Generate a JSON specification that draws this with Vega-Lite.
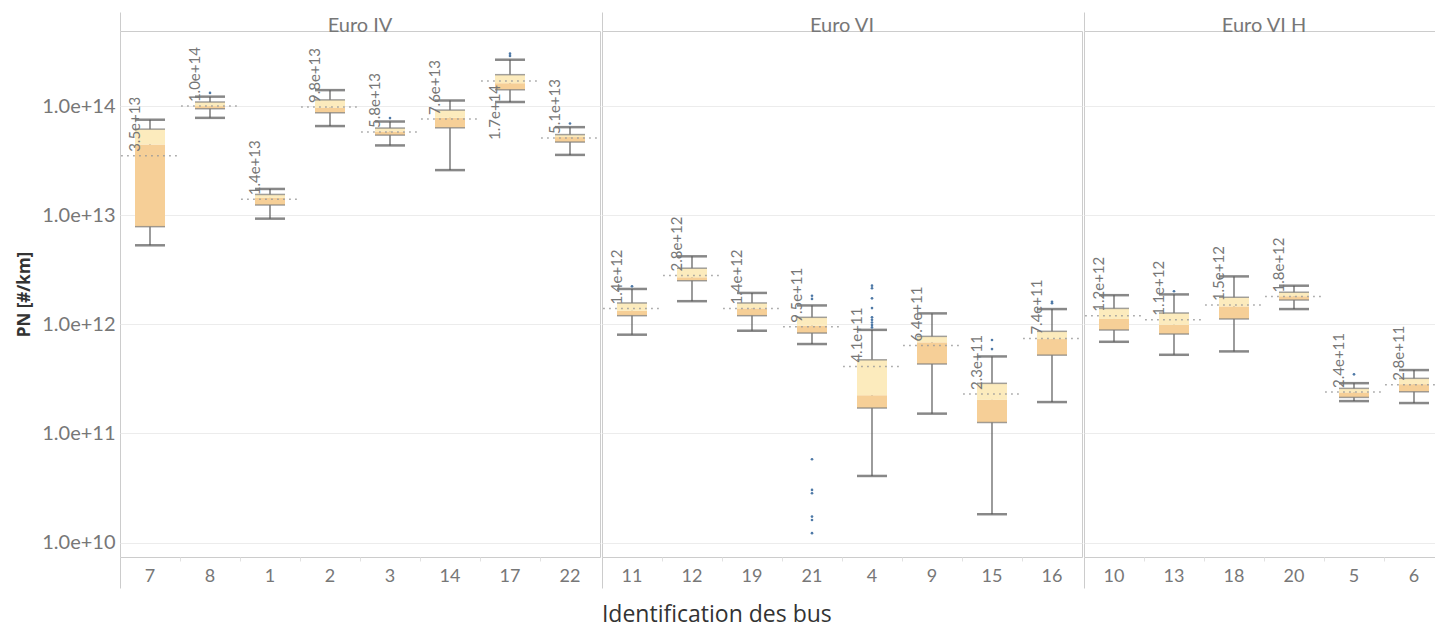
{
  "$schema": "https://vega.github.io/schema/vega-lite/v6.json",
  "padding": {"left": 15, "top": 11, "right": 0, "bottom": 0},
  "background": "white",
  "datasets": {
    "buses": [
      {"norme": "Euro IV", "bus": "7", "lo": 5.3e12, "q1": 7.85e12, "median": 4.45e13, "q3": 6.15e13, "hi": 7.5e13, "mean": 3.5e13, "outliers": []},
      {"norme": "Euro IV", "bus": "8", "lo": 7.8e13, "q1": 9.45e13, "median": 1.0e14, "q3": 1.09e14, "hi": 1.22e14, "mean": 1.0e14, "outliers": [1.32e14]},
      {"norme": "Euro IV", "bus": "1", "lo": 9.3e12, "q1": 1.24e13, "median": 1.44e13, "q3": 1.55e13, "hi": 1.74e13, "mean": 1.4e13, "outliers": []},
      {"norme": "Euro IV", "bus": "2", "lo": 6.56e13, "q1": 8.68e13, "median": 9.7e13, "q3": 1.14e14, "hi": 1.4e14, "mean": 9.8e13, "outliers": []},
      {"norme": "Euro IV", "bus": "3", "lo": 4.36e13, "q1": 5.42e13, "median": 5.85e13, "q3": 6.29e13, "hi": 7.22e13, "mean": 5.8e13, "outliers": [7.76e13]},
      {"norme": "Euro IV", "bus": "14", "lo": 2.59e13, "q1": 6.32e13, "median": 7.8e13, "q3": 9.19e13, "hi": 1.125e14, "mean": 7.6e13, "outliers": []},
      {"norme": "Euro IV", "bus": "17", "lo": 1.09e14, "q1": 1.41e14, "median": 1.62e14, "q3": 1.94e14, "hi": 2.66e14, "mean": 1.7e14, "outliers": [2.88e14, 3.02e14]},
      {"norme": "Euro IV", "bus": "22", "lo": 3.57e13, "q1": 4.68e13, "median": 5.2e13, "q3": 5.48e13, "hi": 6.41e13, "mean": 5.1e13, "outliers": [6.92e13]},
      {"norme": "Euro VI", "bus": "11", "lo": 8.04e11, "q1": 1.2e12, "median": 1.33e12, "q3": 1.57e12, "hi": 2.11e12, "mean": 1.4e12, "outliers": [2.23e12]},
      {"norme": "Euro VI", "bus": "12", "lo": 1.63e12, "q1": 2.51e12, "median": 2.7e12, "q3": 3.27e12, "hi": 4.2e12, "mean": 2.8e12, "outliers": []},
      {"norme": "Euro VI", "bus": "19", "lo": 8.74e11, "q1": 1.2e12, "median": 1.4e12, "q3": 1.57e12, "hi": 1.94e12, "mean": 1.4e12, "outliers": []},
      {"norme": "Euro VI", "bus": "21", "lo": 6.6e11, "q1": 8.32e11, "median": 9.7e11, "q3": 1.16e12, "hi": 1.49e12, "mean": 9.5e11, "outliers": [1.83e12, 1.71e12, 5.8e10, 3.04e10, 2.83e10, 1.73e10, 1.61e10, 1.22e10]},
      {"norme": "Euro VI", "bus": "4", "lo": 4.08e10, "q1": 1.71e11, "median": 2.24e11, "q3": 4.73e11, "hi": 8.9e11, "mean": 4.1e11, "outliers": [2.26e12, 2.14e12, 1.73e12, 1.41e12, 1.16e12, 1.1e12, 1.04e12, 9.86e11, 9.37e11]},
      {"norme": "Euro VI", "bus": "9", "lo": 1.52e11, "q1": 4.33e11, "median": 6.84e11, "q3": 7.76e11, "hi": 1.26e12, "mean": 6.4e11, "outliers": []},
      {"norme": "Euro VI", "bus": "15", "lo": 1.82e10, "q1": 1.26e11, "median": 2.03e11, "q3": 2.88e11, "hi": 5.08e11, "mean": 2.3e11, "outliers": [7.18e11, 5.93e11]},
      {"norme": "Euro VI", "bus": "16", "lo": 1.94e11, "q1": 5.22e11, "median": 7.33e11, "q3": 8.63e11, "hi": 1.38e12, "mean": 7.4e11, "outliers": [1.61e12, 1.56e12]},
      {"norme": "Euro VI H", "bus": "10", "lo": 6.92e11, "q1": 8.87e11, "median": 1.12e12, "q3": 1.4e12, "hi": 1.85e12, "mean": 1.2e12, "outliers": []},
      {"norme": "Euro VI H", "bus": "13", "lo": 5.26e11, "q1": 8.15e11, "median": 9.9e11, "q3": 1.27e12, "hi": 1.88e12, "mean": 1.1e12, "outliers": [2.01e12]},
      {"norme": "Euro VI H", "bus": "18", "lo": 5.65e11, "q1": 1.12e12, "median": 1.46e12, "q3": 1.77e12, "hi": 2.75e12, "mean": 1.5e12, "outliers": []},
      {"norme": "Euro VI H", "bus": "20", "lo": 1.38e12, "q1": 1.67e12, "median": 1.81e12, "q3": 1.97e12, "hi": 2.26e12, "mean": 1.8e12, "outliers": []},
      {"norme": "Euro VI H", "bus": "5", "lo": 1.98e11, "q1": 2.14e11, "median": 2.38e11, "q3": 2.59e11, "hi": 2.89e11, "mean": 2.4e11, "outliers": [3.48e11]},
      {"norme": "Euro VI H", "bus": "6", "lo": 1.9e11, "q1": 2.41e11, "median": 2.83e11, "q3": 3.2e11, "hi": 3.81e11, "mean": 2.8e11, "outliers": []}
    ]
  },
  "title": {
    "text": "Identification des bus",
    "orient": "bottom",
    "anchor": "middle",
    "font": "Open Sans",
    "fontSize": 23,
    "fontWeight": "normal",
    "color": "#333333",
    "offset": 15,
    "dx": -13
  },
  "spacing": 0,
  "resolve": {"scale": {"x": "independent"}},
  "hconcat": [
    {
      "width": 480,
      "height": 526,
      "data": {"name": "buses"},
      "transform": [{"filter": "datum.norme === 'Euro IV'"}],
      "title": {"text": "Euro IV", "font": "Lato", "fontSize": 20, "fontWeight": "normal", "color": "#777777", "anchor": "middle", "offset": -24},
      "resolve": {"axis": {"x": "independent"}},
      "encoding": {
        "x": {"field": "bus", "type": "nominal", "sort": ["7", "8", "1", "2", "3", "14", "17", "22"], "scale": {"type": "band", "paddingInner": 0, "paddingOuter": 0}, "axis": null}
      },
      "layer": [
        {
          "mark": {"type": "rule", "color": "#666666", "strokeWidth": 1.3},
          "encoding": {
            "x": {
              "field": "bus", "type": "nominal", "sort": ["7", "8", "1", "2", "3", "14", "17", "22"],
              "axis": {
                "orient": "bottom", "title": null, "labelAngle": 0, "labelFont": "Lato", "labelFontSize": 18, "labelColor": "#777777",
                "labelPadding": {"condition": {"test": "datum.index === 0", "value": -21}, "value": 6},
                "domain": false, "bandPosition": 0,
                "tickSize": {"condition": {"test": "datum.index === 0", "value": 31}, "value": 4},
                "tickColor": {"condition": {"test": "datum.index === 0", "value": "#cccccc"}, "value": "#e2e2e2"}
              }
            },
            "y": {
              "field": "lo",
              "type": "quantitative",
              "scale": {"type": "log", "domain": [7.38e9, 4.875e14], "nice": false},
              "axis": {
                "title": "PN [#/km]", "titleFont": "Open Sans", "titleFontSize": 17, "titleFontWeight": "bold", "titleColor": "#333333", "titlePadding": 8,
                "values": [1e10, 1e11, 1e12, 1e13, 1e14], "format": ".1e",
                "labelFont": "Lato", "labelFontSize": 20, "labelColor": "#777777", "labelPadding": 5,
                "ticks": false, "domain": false, "grid": true, "gridColor": "#ececec"
              }
            },
            "y2": {"field": "hi"}
          }
        },
        {"mark": {"type": "bar", "color": "#f6cf97", "width": {"band": 0.5}}, "encoding": {"y": {"field": "q1", "type": "quantitative"}, "y2": {"field": "median"}}},
        {"mark": {"type": "bar", "color": "#fcebbd", "width": {"band": 0.5}}, "encoding": {"y": {"field": "median", "type": "quantitative"}, "y2": {"field": "q3"}}},
        {"mark": {"type": "tick", "color": "#7a7a7a", "size": 30, "thickness": 1.5}, "encoding": {"y": {"field": "q1", "type": "quantitative"}}},
        {"mark": {"type": "tick", "color": "#7a7a7a", "size": 30, "thickness": 1.5}, "encoding": {"y": {"field": "q3", "type": "quantitative"}}},
        {"mark": {"type": "tick", "color": "#555555", "size": 30, "thickness": 2.5}, "encoding": {"y": {"field": "lo", "type": "quantitative"}}},
        {
          "mark": {"type": "tick", "color": "#555555", "size": 30, "thickness": 2.5},
          "encoding": {
            "x": {
              "field": "bus", "type": "nominal", "sort": ["7", "8", "1", "2", "3", "14", "17", "22"],
              "axis": {
                "orient": "top", "title": null, "labels": false, "domain": false, "bandPosition": 0,
                "tickSize": {"condition": {"test": "datum.index === 0", "value": 19}, "value": 0},
                "tickColor": "#cccccc"
              }
            },
            "y": {"field": "hi", "type": "quantitative"}
          }
        },
        {
          "mark": {"type": "rule", "color": "#999999", "strokeWidth": 1.5, "strokeDash": [1.5, 4.5]},
          "encoding": {
            "x": {"field": "bus", "type": "nominal", "sort": ["7", "8", "1", "2", "3", "14", "17", "22"], "bandPosition": 0.02, "axis": null},
            "x2": {"field": "bus", "bandPosition": 0.98},
            "y": {"field": "mean", "type": "quantitative"}
          }
        },
        {
          "transform": [{"flatten": ["outliers"], "as": ["outlier"]}],
          "mark": {"type": "circle", "color": "#4e79a7", "size": 7, "opacity": 1},
          "encoding": {"y": {"field": "outlier", "type": "quantitative"}}
        },
        {
          "mark": {
            "type": "text", "angle": 270, "font": "Lato", "fontSize": 15, "color": "#777777", "baseline": "middle",
            "align": {"expr": "datum.mean > 1.2e14 ? 'right' : 'left'"},
            "dx": {"expr": "datum.mean > 1.2e14 ? -4 : 4"},
            "dy": -15
          },
          "encoding": {
            "y": {"field": "mean", "type": "quantitative"},
            "text": {"field": "mean", "type": "quantitative", "format": ".1e"}
          }
        }
      ]
    },
    {
      "width": 480,
      "height": 526,
      "data": {"name": "buses"},
      "transform": [{"filter": "datum.norme === 'Euro VI'"}],
      "title": {"text": "Euro VI", "font": "Lato", "fontSize": 20, "fontWeight": "normal", "color": "#777777", "anchor": "middle", "offset": -24},
      "resolve": {"axis": {"x": "independent"}},
      "encoding": {
        "x": {"field": "bus", "type": "nominal", "sort": ["11", "12", "19", "21", "4", "9", "15", "16"], "scale": {"type": "band", "paddingInner": 0, "paddingOuter": 0}, "axis": null}
      },
      "layer": [
        {
          "mark": {"type": "rule", "color": "#666666", "strokeWidth": 1.3},
          "encoding": {
            "x": {
              "field": "bus", "type": "nominal", "sort": ["11", "12", "19", "21", "4", "9", "15", "16"],
              "axis": {
                "orient": "bottom", "title": null, "labelAngle": 0, "labelFont": "Lato", "labelFontSize": 18, "labelColor": "#777777",
                "labelPadding": {"condition": {"test": "datum.index === 0", "value": -21}, "value": 6},
                "domain": false, "bandPosition": 0,
                "tickSize": {"condition": {"test": "datum.index === 0", "value": 31}, "value": 4},
                "tickColor": {"condition": {"test": "datum.index === 0", "value": "#cccccc"}, "value": "#e2e2e2"}
              }
            },
            "y": {
              "field": "lo",
              "type": "quantitative",
              "scale": {"type": "log", "domain": [7.38e9, 4.875e14], "nice": false},
              "axis": {"title": null, "labels": false, "values": [1e10, 1e11, 1e12, 1e13, 1e14], "ticks": false, "domain": false, "grid": true, "gridColor": "#ececec"}
            },
            "y2": {"field": "hi"}
          }
        },
        {"mark": {"type": "bar", "color": "#f6cf97", "width": {"band": 0.5}}, "encoding": {"y": {"field": "q1", "type": "quantitative"}, "y2": {"field": "median"}}},
        {"mark": {"type": "bar", "color": "#fcebbd", "width": {"band": 0.5}}, "encoding": {"y": {"field": "median", "type": "quantitative"}, "y2": {"field": "q3"}}},
        {"mark": {"type": "tick", "color": "#7a7a7a", "size": 30, "thickness": 1.5}, "encoding": {"y": {"field": "q1", "type": "quantitative"}}},
        {"mark": {"type": "tick", "color": "#7a7a7a", "size": 30, "thickness": 1.5}, "encoding": {"y": {"field": "q3", "type": "quantitative"}}},
        {"mark": {"type": "tick", "color": "#555555", "size": 30, "thickness": 2.5}, "encoding": {"y": {"field": "lo", "type": "quantitative"}}},
        {
          "mark": {"type": "tick", "color": "#555555", "size": 30, "thickness": 2.5},
          "encoding": {
            "x": {
              "field": "bus", "type": "nominal", "sort": ["11", "12", "19", "21", "4", "9", "15", "16"],
              "axis": {
                "orient": "top", "title": null, "labels": false, "domain": false, "bandPosition": 0,
                "tickSize": {"condition": {"test": "datum.index === 0", "value": 19}, "value": 0},
                "tickColor": "#cccccc"
              }
            },
            "y": {"field": "hi", "type": "quantitative"}
          }
        },
        {
          "mark": {"type": "rule", "color": "#999999", "strokeWidth": 1.5, "strokeDash": [1.5, 4.5]},
          "encoding": {
            "x": {"field": "bus", "type": "nominal", "sort": ["11", "12", "19", "21", "4", "9", "15", "16"], "bandPosition": 0.02, "axis": null},
            "x2": {"field": "bus", "bandPosition": 0.98},
            "y": {"field": "mean", "type": "quantitative"}
          }
        },
        {
          "transform": [{"flatten": ["outliers"], "as": ["outlier"]}],
          "mark": {"type": "circle", "color": "#4e79a7", "size": 7, "opacity": 1},
          "encoding": {"y": {"field": "outlier", "type": "quantitative"}}
        },
        {
          "mark": {
            "type": "text", "angle": 270, "font": "Lato", "fontSize": 15, "color": "#777777", "baseline": "middle",
            "align": {"expr": "datum.mean > 1.2e14 ? 'right' : 'left'"},
            "dx": {"expr": "datum.mean > 1.2e14 ? -4 : 4"},
            "dy": -15
          },
          "encoding": {
            "y": {"field": "mean", "type": "quantitative"},
            "text": {"field": "mean", "type": "quantitative", "format": ".1e"}
          }
        }
      ]
    },
    {
      "width": 360,
      "height": 526,
      "data": {"name": "buses"},
      "transform": [{"filter": "datum.norme === 'Euro VI H'"}],
      "title": {"text": "Euro VI H", "font": "Lato", "fontSize": 20, "fontWeight": "normal", "color": "#777777", "anchor": "middle", "offset": -24},
      "resolve": {"axis": {"x": "independent"}},
      "encoding": {
        "x": {"field": "bus", "type": "nominal", "sort": ["10", "13", "18", "20", "5", "6"], "scale": {"type": "band", "paddingInner": 0, "paddingOuter": 0}, "axis": null}
      },
      "layer": [
        {
          "mark": {"type": "rule", "color": "#666666", "strokeWidth": 1.3},
          "encoding": {
            "x": {
              "field": "bus", "type": "nominal", "sort": ["10", "13", "18", "20", "5", "6"],
              "axis": {
                "orient": "bottom", "title": null, "labelAngle": 0, "labelFont": "Lato", "labelFontSize": 18, "labelColor": "#777777",
                "labelPadding": {"condition": {"test": "datum.index === 0", "value": -21}, "value": 6},
                "domain": false, "bandPosition": 0,
                "tickSize": {"condition": {"test": "datum.index === 0", "value": 31}, "value": 4},
                "tickColor": {"condition": {"test": "datum.index === 0", "value": "#cccccc"}, "value": "#e2e2e2"}
              }
            },
            "y": {
              "field": "lo",
              "type": "quantitative",
              "scale": {"type": "log", "domain": [7.38e9, 4.875e14], "nice": false},
              "axis": {"title": null, "labels": false, "values": [1e10, 1e11, 1e12, 1e13, 1e14], "ticks": false, "domain": false, "grid": true, "gridColor": "#ececec"}
            },
            "y2": {"field": "hi"}
          }
        },
        {"mark": {"type": "bar", "color": "#f6cf97", "width": {"band": 0.5}}, "encoding": {"y": {"field": "q1", "type": "quantitative"}, "y2": {"field": "median"}}},
        {"mark": {"type": "bar", "color": "#fcebbd", "width": {"band": 0.5}}, "encoding": {"y": {"field": "median", "type": "quantitative"}, "y2": {"field": "q3"}}},
        {"mark": {"type": "tick", "color": "#7a7a7a", "size": 30, "thickness": 1.5}, "encoding": {"y": {"field": "q1", "type": "quantitative"}}},
        {"mark": {"type": "tick", "color": "#7a7a7a", "size": 30, "thickness": 1.5}, "encoding": {"y": {"field": "q3", "type": "quantitative"}}},
        {"mark": {"type": "tick", "color": "#555555", "size": 30, "thickness": 2.5}, "encoding": {"y": {"field": "lo", "type": "quantitative"}}},
        {
          "mark": {"type": "tick", "color": "#555555", "size": 30, "thickness": 2.5},
          "encoding": {
            "x": {
              "field": "bus", "type": "nominal", "sort": ["10", "13", "18", "20", "5", "6"],
              "axis": {
                "orient": "top", "title": null, "labels": false, "domain": false, "bandPosition": 0,
                "tickSize": {"condition": {"test": "datum.index === 0", "value": 19}, "value": 0},
                "tickColor": "#cccccc"
              }
            },
            "y": {"field": "hi", "type": "quantitative"}
          }
        },
        {
          "mark": {"type": "rule", "color": "#999999", "strokeWidth": 1.5, "strokeDash": [1.5, 4.5]},
          "encoding": {
            "x": {"field": "bus", "type": "nominal", "sort": ["10", "13", "18", "20", "5", "6"], "bandPosition": 0.02, "axis": null},
            "x2": {"field": "bus", "bandPosition": 0.98},
            "y": {"field": "mean", "type": "quantitative"}
          }
        },
        {
          "transform": [{"flatten": ["outliers"], "as": ["outlier"]}],
          "mark": {"type": "circle", "color": "#4e79a7", "size": 7, "opacity": 1},
          "encoding": {"y": {"field": "outlier", "type": "quantitative"}}
        },
        {
          "mark": {
            "type": "text", "angle": 270, "font": "Lato", "fontSize": 15, "color": "#777777", "baseline": "middle",
            "align": {"expr": "datum.mean > 1.2e14 ? 'right' : 'left'"},
            "dx": {"expr": "datum.mean > 1.2e14 ? -4 : 4"},
            "dy": -15
          },
          "encoding": {
            "y": {"field": "mean", "type": "quantitative"},
            "text": {"field": "mean", "type": "quantitative", "format": ".1e"}
          }
        }
      ]
    }
  ],
  "config": {
    "view": {"stroke": "#cccccc", "strokeWidth": 1}
  }
}
